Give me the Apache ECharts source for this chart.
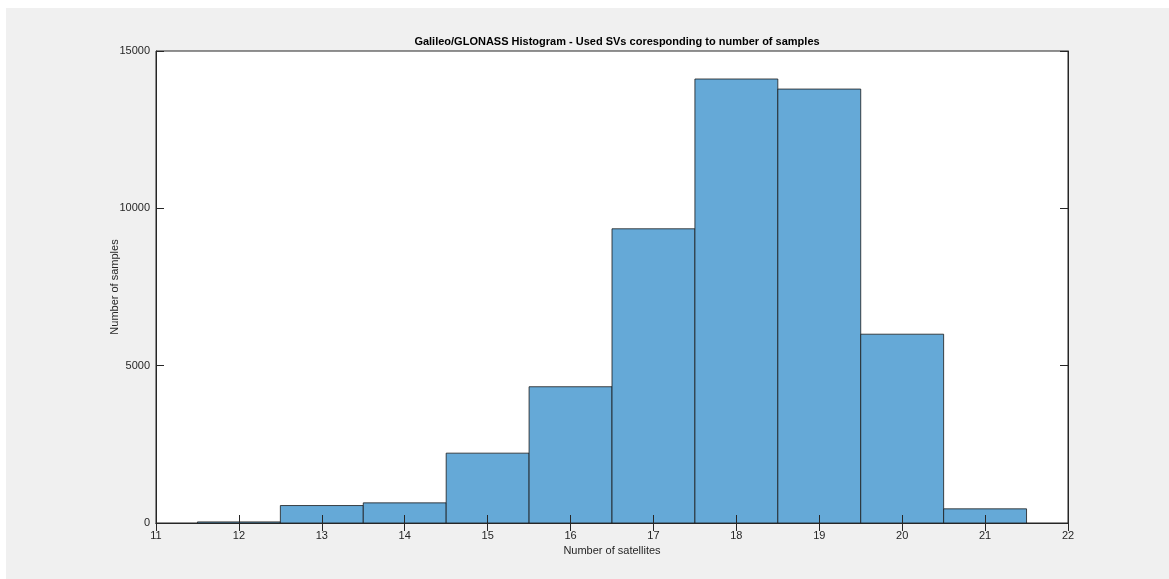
<!DOCTYPE html>
<html>
<head>
<meta charset="utf-8">
<script src="https://cdn.jsdelivr.net/npm/echarts@6/dist/echarts.min.js"></script>
<style>
  html, body { margin: 0; padding: 0; background: #ffffff; }
  #bg { position: absolute; left: 6px; top: 8px; right: 0; bottom: 0; background: #f0f0f0; }
  #chart { position: absolute; left: 0; top: 0; width: 1169px; height: 579px; }
</style>
</head>
<body>
<div id="bg"></div>
<div id="chart"></div>
<script>
// Histogram bins: number of used satellites (bin centres) and sample counts
const binCenters = [12, 13, 14, 15, 16, 17, 18, 19, 20, 21];
const sampleCounts = [35, 555, 640, 2220, 4330, 9350, 14110, 13790, 6000, 450];
const binWidth = 1;

const xTicks = [11, 12, 13, 14, 15, 16, 17, 18, 19, 20, 21, 22];
const yTicks = [0, 5000, 10000, 15000];

const axisColor = '#262626';
const fontFamily = 'Liberation Sans, Arial, sans-serif';
const labelFont = { color: axisColor, fontSize: 11, fontFamily: fontFamily };

const chart = echarts.init(document.getElementById('chart'), null, { renderer: 'canvas' });

const data = binCenters.map((c, i) => [c, sampleCounts[i]]);

// Shared look for the boxed axes: inward ticks drawn above the bars
function boxAxis(extra) {
  return Object.assign({
    z: 5,
    axisLine: { show: true, lineStyle: { color: axisColor } },
    axisTick: { show: true, inside: true, length: 8, lineStyle: { color: axisColor } },
    splitLine: { show: false }
  }, extra);
}

const option = {
  backgroundColor: 'transparent',
  animation: false,
  title: {
    text: 'Galileo/GLONASS Histogram - Used SVs coresponding to number of samples',
    left: 612, top: 31, textAlign: 'center',
    textStyle: { color: '#000', fontSize: 11, fontWeight: 'bold', fontFamily: fontFamily }
  },
  grid: {
    left: 156, right: 101, top: 51, bottom: 56,
    show: true, backgroundColor: '#ffffff', borderColor: axisColor, borderWidth: 1
  },
  xAxis: [boxAxis({
    type: 'value', min: xTicks[0], max: xTicks[xTicks.length - 1], interval: 1,
    position: 'bottom',
    name: 'Number of satellites', nameLocation: 'middle', nameGap: 22,
    nameMoveOverlap: false,
    nameTextStyle: { color: axisColor, fontSize: 11, fontFamily: fontFamily },
    axisLabel: Object.assign({ margin: 7 }, labelFont)
  }), boxAxis({
    type: 'value', min: xTicks[0], max: xTicks[xTicks.length - 1], interval: 1,
    position: 'top',
    axisLabel: { show: false }
  })],
  yAxis: [boxAxis({
    type: 'value', min: yTicks[0], max: yTicks[yTicks.length - 1], interval: 5000,
    position: 'left',
    name: 'Number of samples', nameLocation: 'middle', nameGap: 36, nameRotate: 90,
    nameMoveOverlap: false,
    nameTextStyle: { color: axisColor, fontSize: 11, fontFamily: fontFamily },
    axisLabel: Object.assign({ margin: 6, formatter: v => String(v) }, labelFont)
  }), boxAxis({
    type: 'value', min: yTicks[0], max: yTicks[yTicks.length - 1], interval: 5000,
    position: 'right',
    axisLabel: { show: false }
  })],
  series: [{
    type: 'custom',
    xAxisIndex: 0, yAxisIndex: 0,
    data: data,
    renderItem: function (params, api) {
      const c = api.value(0), v = api.value(1);
      const p0 = api.coord([c - binWidth / 2, v]);
      const p1 = api.coord([c + binWidth / 2, 0]);
      return {
        type: 'rect',
        shape: { x: p0[0], y: p0[1], width: p1[0] - p0[0], height: p1[1] - p0[1] },
        style: { fill: '#65a9d7', stroke: '#1a1a1a', lineWidth: 0.8 }
      };
    },
    encode: { x: 0, y: 1 },
    z: 1
  }]
};

chart.setOption(option);
</script>
</body>
</html>
